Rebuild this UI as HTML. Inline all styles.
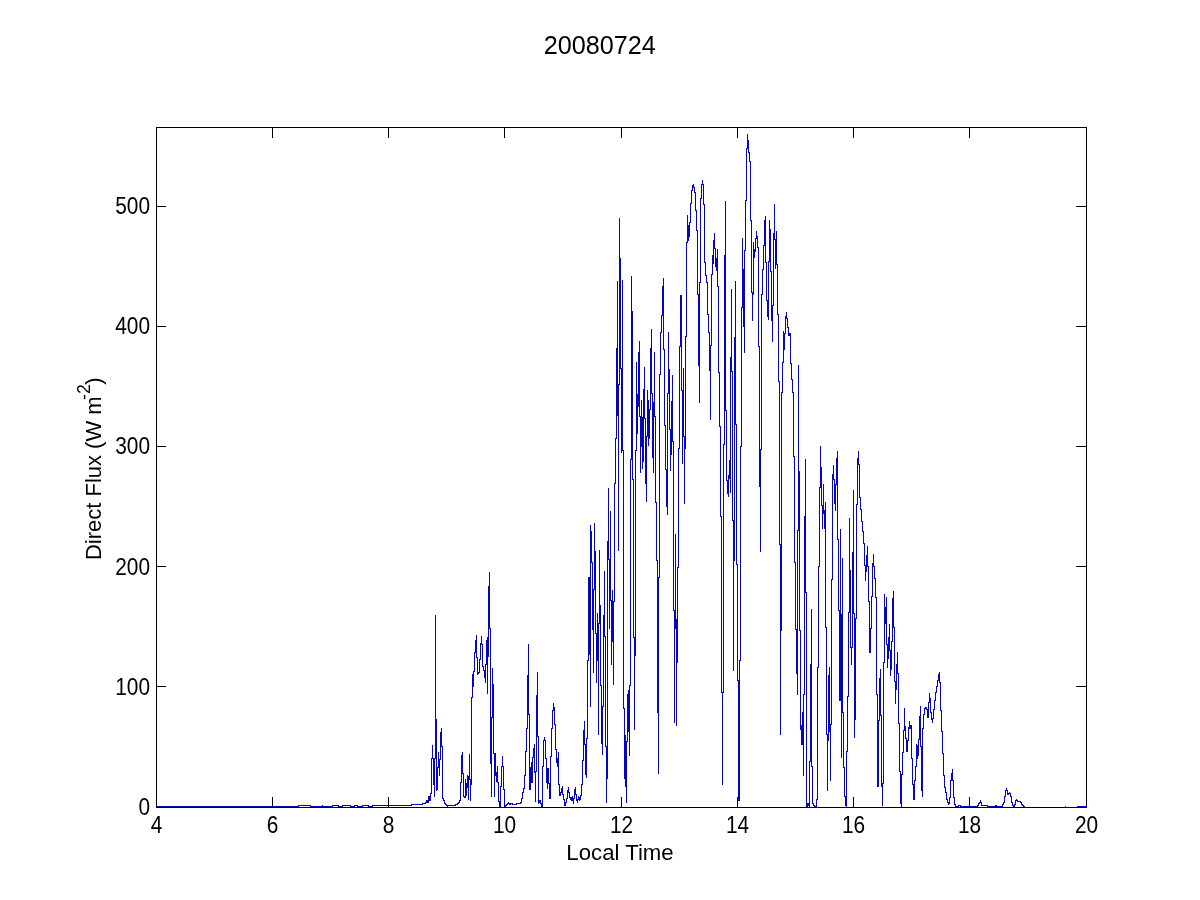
<!DOCTYPE html>
<html><head><meta charset="utf-8"><title>20080724</title>
<style>
html,body{margin:0;padding:0;background:#fff;}
body{width:1200px;height:900px;position:relative;overflow:hidden;}
svg{position:absolute;left:0;top:0;will-change:transform;}
text{font-family:"Liberation Sans",sans-serif;fill:#000;}
</style></head><body>
<svg width="1200" height="900" viewBox="0 0 1200 900">
<g stroke="#000" stroke-width="1" fill="none" shape-rendering="crispEdges">
<rect x="156.5" y="127.5" width="930" height="680"/>
<path d="M272.5 807V797M272.5 128V138"/>
<path d="M388.5 807V797M388.5 128V138"/>
<path d="M504.5 807V797M504.5 128V138"/>
<path d="M621.5 807V797M621.5 128V138"/>
<path d="M737.5 807V797M737.5 128V138"/>
<path d="M853.5 807V797M853.5 128V138"/>
<path d="M969.5 807V797M969.5 128V138"/>
<path d="M157 686.5H166M1086 686.5H1076"/>
<path d="M157 566.5H166M1086 566.5H1076"/>
<path d="M157 446.5H166M1086 446.5H1076"/>
<path d="M157 326.5H166M1086 326.5H1076"/>
<path d="M157 206.5H166M1086 206.5H1076"/>
</g>
<path d="M156 806h1v1h-1zM157 806h1v1h-1zM158 806h1v1h-1zM159 806h1v1h-1zM160 806h1v1h-1zM161 806h1v1h-1zM162 806h1v1h-1zM163 806h1v1h-1zM164 806h1v1h-1zM165 806h1v1h-1zM166 806h1v1h-1zM167 806h1v1h-1zM168 806h1v1h-1zM169 806h1v1h-1zM170 806h1v1h-1zM171 806h1v1h-1zM172 806h1v1h-1zM173 806h1v1h-1zM174 806h1v1h-1zM175 806h1v1h-1zM176 806h1v1h-1zM177 806h1v1h-1zM178 806h1v1h-1zM179 806h1v1h-1zM180 806h1v1h-1zM181 806h1v1h-1zM182 806h1v1h-1zM183 806h1v1h-1zM184 806h1v1h-1zM185 806h1v1h-1zM186 806h1v1h-1zM187 806h1v1h-1zM188 806h1v1h-1zM189 806h1v1h-1zM190 806h1v1h-1zM191 806h1v1h-1zM192 806h1v1h-1zM193 806h1v1h-1zM194 806h1v1h-1zM195 806h1v1h-1zM196 806h1v1h-1zM197 806h1v1h-1zM198 806h1v1h-1zM199 806h1v1h-1zM200 806h1v1h-1zM201 806h1v1h-1zM202 806h1v1h-1zM203 806h1v1h-1zM204 806h1v1h-1zM205 806h1v1h-1zM206 806h1v1h-1zM207 806h1v1h-1zM208 806h1v1h-1zM209 806h1v1h-1zM210 806h1v1h-1zM211 806h1v1h-1zM212 806h1v1h-1zM213 806h1v1h-1zM214 806h1v1h-1zM215 806h1v1h-1zM216 806h1v1h-1zM217 806h1v1h-1zM218 806h1v1h-1zM219 806h1v1h-1zM220 806h1v1h-1zM221 806h1v1h-1zM222 806h1v1h-1zM223 806h1v1h-1zM224 806h1v1h-1zM225 806h1v1h-1zM226 806h1v1h-1zM227 806h1v1h-1zM228 806h1v1h-1zM229 806h1v1h-1zM230 806h1v1h-1zM231 806h1v1h-1zM232 806h1v1h-1zM233 806h1v1h-1zM234 806h1v1h-1zM235 806h1v1h-1zM236 806h1v1h-1zM237 806h1v1h-1zM238 806h1v1h-1zM239 806h1v1h-1zM240 806h1v1h-1zM241 806h1v1h-1zM242 806h1v1h-1zM243 806h1v1h-1zM244 806h1v1h-1zM245 806h1v1h-1zM246 806h1v1h-1zM247 806h1v1h-1zM248 806h1v1h-1zM249 806h1v1h-1zM250 806h1v1h-1zM251 806h1v1h-1zM252 806h1v1h-1zM253 806h1v1h-1zM254 806h1v1h-1zM255 806h1v1h-1zM256 806h1v1h-1zM257 806h1v1h-1zM258 806h1v1h-1zM259 806h1v1h-1zM260 806h1v1h-1zM261 806h1v1h-1zM262 806h1v1h-1zM263 806h1v1h-1zM264 806h1v1h-1zM265 806h1v1h-1zM266 806h1v1h-1zM267 806h1v1h-1zM268 806h1v1h-1zM269 806h1v1h-1zM270 806h1v1h-1zM271 806h1v1h-1zM272 806h1v1h-1zM273 806h1v1h-1zM274 806h1v1h-1zM275 806h1v1h-1zM276 806h1v1h-1zM277 806h1v1h-1zM278 806h1v1h-1zM279 806h1v1h-1zM280 806h1v1h-1zM281 806h1v1h-1zM282 806h1v1h-1zM283 806h1v1h-1zM284 806h1v1h-1zM285 806h1v1h-1zM286 806h1v1h-1zM287 806h1v1h-1zM288 806h1v1h-1zM289 806h1v1h-1zM290 806h1v1h-1zM291 806h1v1h-1zM292 806h1v1h-1zM293 806h1v1h-1zM294 806h1v1h-1zM295 806h1v1h-1zM296 806h1v1h-1zM297 806h1v1h-1zM298 805h1v2h-1zM299 805h1v1h-1zM300 805h1v1h-1zM301 805h1v1h-1zM302 805h1v1h-1zM303 805h1v1h-1zM304 805h1v1h-1zM305 805h1v1h-1zM306 805h1v1h-1zM307 805h1v1h-1zM308 805h1v1h-1zM309 805h1v1h-1zM310 805h1v2h-1zM311 806h1v1h-1zM312 806h1v1h-1zM313 806h1v1h-1zM314 806h1v1h-1zM315 806h1v1h-1zM316 806h1v1h-1zM317 806h1v1h-1zM318 806h1v1h-1zM319 806h1v1h-1zM320 806h1v1h-1zM321 806h1v1h-1zM322 805h1v2h-1zM323 806h1v1h-1zM324 806h1v1h-1zM325 806h1v1h-1zM326 806h1v1h-1zM327 806h1v1h-1zM328 806h1v1h-1zM329 806h1v1h-1zM330 806h1v1h-1zM331 806h1v1h-1zM332 805h1v2h-1zM333 805h1v1h-1zM334 805h1v1h-1zM335 805h1v1h-1zM336 805h1v1h-1zM337 805h1v1h-1zM338 805h1v2h-1zM339 806h1v1h-1zM340 806h1v1h-1zM341 806h1v1h-1zM342 805h1v2h-1zM343 805h1v1h-1zM344 805h1v1h-1zM345 805h1v1h-1zM346 805h1v1h-1zM347 805h1v1h-1zM348 805h1v1h-1zM349 805h1v1h-1zM350 805h1v2h-1zM351 806h1v1h-1zM352 806h1v1h-1zM353 806h1v1h-1zM354 805h1v2h-1zM355 805h1v1h-1zM356 805h1v1h-1zM357 805h1v2h-1zM358 806h1v1h-1zM359 806h1v1h-1zM360 806h1v1h-1zM361 806h1v1h-1zM362 805h1v2h-1zM363 805h1v1h-1zM364 805h1v1h-1zM365 805h1v1h-1zM366 805h1v1h-1zM367 805h1v1h-1zM368 805h1v2h-1zM369 806h1v1h-1zM370 806h1v1h-1zM371 806h1v1h-1zM372 805h1v2h-1zM373 805h1v1h-1zM374 805h1v1h-1zM375 805h1v1h-1zM376 805h1v1h-1zM377 805h1v1h-1zM378 805h1v1h-1zM379 805h1v1h-1zM380 805h1v1h-1zM381 805h1v1h-1zM382 805h1v1h-1zM383 805h1v1h-1zM384 805h1v1h-1zM385 805h1v1h-1zM386 805h1v1h-1zM387 805h1v1h-1zM388 805h1v1h-1zM389 805h1v1h-1zM390 805h1v1h-1zM391 805h1v1h-1zM392 805h1v1h-1zM393 805h1v1h-1zM394 805h1v1h-1zM395 805h1v1h-1zM396 805h1v1h-1zM397 805h1v1h-1zM398 805h1v1h-1zM399 805h1v1h-1zM400 805h1v1h-1zM401 805h1v1h-1zM402 805h1v1h-1zM403 805h1v1h-1zM404 805h1v1h-1zM405 805h1v1h-1zM406 805h1v1h-1zM407 805h1v1h-1zM408 805h1v1h-1zM409 805h1v1h-1zM410 805h1v1h-1zM411 804h1v2h-1zM412 804h1v1h-1zM413 804h1v1h-1zM414 804h1v1h-1zM415 804h1v1h-1zM416 804h1v1h-1zM417 804h1v1h-1zM418 804h1v1h-1zM419 804h1v1h-1zM420 804h1v1h-1zM421 804h1v1h-1zM422 803h1v2h-1zM423 803h1v1h-1zM424 803h1v1h-1zM425 802h1v2h-1zM426 800h1v3h-1zM427 800h1v3h-1zM428 796h1v7h-1zM429 796h1v5h-1zM430 793h1v8h-1zM431 758h1v36h-1zM432 745h1v14h-1zM433 758h1v27h-1zM434 758h1v39h-1zM435 615h1v144h-1zM436 719h1v72h-1zM437 767h1v23h-1zM438 752h1v16h-1zM439 759h1v17h-1zM440 732h1v28h-1zM441 728h1v19h-1zM442 746h1v53h-1zM443 798h1v3h-1zM444 800h1v4h-1zM445 803h1v2h-1zM446 804h1v2h-1zM447 805h1v2h-1zM448 805h1v1h-1zM449 805h1v1h-1zM450 805h1v1h-1zM451 805h1v1h-1zM452 805h1v1h-1zM453 805h1v1h-1zM454 805h1v1h-1zM455 804h1v2h-1zM456 804h1v1h-1zM457 803h1v2h-1zM458 802h1v2h-1zM459 800h1v3h-1zM460 782h1v19h-1zM461 755h1v28h-1zM462 752h1v22h-1zM463 773h1v24h-1zM464 796h1v2h-1zM465 779h1v19h-1zM466 783h1v13h-1zM467 775h1v13h-1zM468 776h1v24h-1zM469 754h1v26h-1zM470 779h1v22h-1zM471 697h1v88h-1zM472 674h1v24h-1zM473 671h1v16h-1zM474 652h1v20h-1zM475 640h1v13h-1zM476 635h1v23h-1zM477 657h1v18h-1zM478 672h1v2h-1zM479 659h1v14h-1zM480 643h1v17h-1zM481 636h1v9h-1zM482 644h1v23h-1zM483 666h1v5h-1zM484 670h1v8h-1zM485 664h1v19h-1zM486 640h1v25h-1zM487 637h1v57h-1zM488 586h1v71h-1zM489 572h1v57h-1zM490 628h1v136h-1zM491 717h1v80h-1zM492 668h1v50h-1zM493 684h1v70h-1zM494 753h1v44h-1zM495 753h1v23h-1zM496 772h1v10h-1zM497 766h1v17h-1zM498 782h1v20h-1zM499 801h1v6h-1zM500 786h1v21h-1zM501 766h1v21h-1zM502 756h1v11h-1zM503 766h1v24h-1zM504 789h1v18h-1zM505 805h1v2h-1zM506 804h1v2h-1zM507 803h1v2h-1zM508 802h1v2h-1zM509 803h1v2h-1zM510 803h1v2h-1zM511 803h1v1h-1zM512 803h1v2h-1zM513 804h1v1h-1zM514 804h1v1h-1zM515 804h1v1h-1zM516 803h1v2h-1zM517 803h1v1h-1zM518 803h1v1h-1zM519 803h1v1h-1zM520 802h1v2h-1zM521 798h1v5h-1zM522 792h1v7h-1zM523 788h1v5h-1zM524 775h1v14h-1zM525 751h1v25h-1zM526 728h1v24h-1zM527 675h1v54h-1zM528 644h1v71h-1zM529 714h1v76h-1zM530 767h1v23h-1zM531 762h1v21h-1zM532 757h1v26h-1zM533 748h1v10h-1zM534 744h1v29h-1zM535 771h1v31h-1zM536 695h1v77h-1zM537 672h1v65h-1zM538 736h1v68h-1zM539 800h1v3h-1zM540 800h1v4h-1zM541 803h1v4h-1zM542 766h1v41h-1zM543 740h1v27h-1zM544 737h1v4h-1zM545 740h1v19h-1zM546 758h1v25h-1zM547 768h1v21h-1zM548 768h1v16h-1zM549 783h1v16h-1zM550 756h1v43h-1zM551 728h1v29h-1zM552 710h1v19h-1zM553 703h1v8h-1zM554 707h1v18h-1zM555 724h1v26h-1zM556 749h1v14h-1zM557 758h1v9h-1zM558 752h1v33h-1zM559 784h1v12h-1zM560 792h1v4h-1zM561 788h1v5h-1zM562 786h1v9h-1zM563 794h1v6h-1zM564 799h1v7h-1zM565 802h1v4h-1zM566 798h1v5h-1zM567 790h1v9h-1zM568 787h1v6h-1zM569 792h1v6h-1zM570 797h1v3h-1zM571 797h1v4h-1zM572 796h1v5h-1zM573 798h1v6h-1zM574 789h1v10h-1zM575 787h1v8h-1zM576 794h1v7h-1zM577 799h1v4h-1zM578 796h1v4h-1zM579 797h1v4h-1zM580 795h1v5h-1zM581 784h1v12h-1zM582 760h1v25h-1zM583 730h1v31h-1zM584 721h1v24h-1zM585 744h1v31h-1zM586 738h1v40h-1zM587 660h1v79h-1zM588 577h1v84h-1zM589 577h1v78h-1zM590 525h1v182h-1zM591 531h1v32h-1zM592 562h1v68h-1zM593 589h1v84h-1zM594 523h1v67h-1zM595 551h1v83h-1zM596 633h1v50h-1zM597 613h1v48h-1zM598 623h1v112h-1zM599 550h1v74h-1zM600 605h1v81h-1zM601 685h1v59h-1zM602 706h1v49h-1zM603 615h1v92h-1zM604 571h1v66h-1zM605 636h1v111h-1zM606 746h1v57h-1zM607 541h1v238h-1zM608 488h1v72h-1zM609 559h1v70h-1zM610 511h1v90h-1zM611 600h1v65h-1zM612 590h1v52h-1zM613 601h1v84h-1zM614 483h1v119h-1zM615 438h1v46h-1zM616 348h1v91h-1zM617 281h1v135h-1zM618 384h1v167h-1zM619 218h1v167h-1zM620 258h1v111h-1zM621 368h1v85h-1zM622 280h1v171h-1zM623 450h1v259h-1zM624 708h1v71h-1zM625 735h1v52h-1zM626 741h1v62h-1zM627 694h1v48h-1zM628 690h1v42h-1zM629 685h1v71h-1zM630 459h1v227h-1zM631 276h1v184h-1zM632 311h1v169h-1zM633 479h1v159h-1zM634 637h1v93h-1zM635 450h1v206h-1zM636 362h1v89h-1zM637 394h1v40h-1zM638 352h1v55h-1zM639 341h1v76h-1zM640 416h1v57h-1zM641 400h1v47h-1zM642 417h1v52h-1zM643 389h1v73h-1zM644 367h1v52h-1zM645 418h1v66h-1zM646 436h1v66h-1zM647 390h1v47h-1zM648 400h1v46h-1zM649 409h1v30h-1zM650 348h1v62h-1zM651 329h1v65h-1zM652 393h1v65h-1zM653 402h1v71h-1zM654 352h1v65h-1zM655 416h1v87h-1zM656 502h1v59h-1zM657 560h1v153h-1zM658 577h1v197h-1zM659 374h1v204h-1zM660 332h1v43h-1zM661 315h1v18h-1zM662 286h1v30h-1zM663 278h1v72h-1zM664 349h1v77h-1zM665 425h1v45h-1zM666 469h1v38h-1zM667 393h1v122h-1zM668 332h1v62h-1zM669 369h1v61h-1zM670 429h1v42h-1zM671 401h1v54h-1zM672 375h1v67h-1zM673 441h1v170h-1zM674 610h1v113h-1zM675 534h1v95h-1zM676 619h1v107h-1zM677 567h1v96h-1zM678 448h1v120h-1zM679 346h1v103h-1zM680 295h1v52h-1zM681 295h1v96h-1zM682 390h1v74h-1zM683 368h1v69h-1zM684 436h1v68h-1zM685 336h1v113h-1zM686 242h1v95h-1zM687 215h1v28h-1zM688 225h1v16h-1zM689 222h1v15h-1zM690 203h1v20h-1zM691 190h1v14h-1zM692 185h1v6h-1zM693 184h1v4h-1zM694 187h1v6h-1zM695 192h1v19h-1zM696 210h1v21h-1zM697 230h1v65h-1zM698 294h1v72h-1zM699 282h1v121h-1zM700 198h1v85h-1zM701 184h1v15h-1zM702 180h1v5h-1zM703 184h1v21h-1zM704 204h1v59h-1zM705 262h1v14h-1zM706 275h1v8h-1zM707 282h1v33h-1zM708 314h1v19h-1zM709 332h1v39h-1zM710 345h1v75h-1zM711 274h1v72h-1zM712 255h1v20h-1zM713 240h1v24h-1zM714 233h1v16h-1zM715 248h1v19h-1zM716 258h1v13h-1zM717 249h1v38h-1zM718 286h1v87h-1zM719 372h1v55h-1zM720 426h1v91h-1zM721 516h1v177h-1zM722 692h1v93h-1zM723 444h1v249h-1zM724 255h1v190h-1zM725 201h1v210h-1zM726 410h1v71h-1zM727 480h1v14h-1zM728 475h1v22h-1zM729 460h1v19h-1zM730 357h1v136h-1zM731 289h1v83h-1zM732 371h1v150h-1zM733 520h1v151h-1zM734 337h1v224h-1zM735 281h1v144h-1zM736 424h1v141h-1zM737 564h1v117h-1zM738 680h1v121h-1zM739 660h1v141h-1zM740 446h1v215h-1zM741 307h1v140h-1zM742 238h1v70h-1zM743 269h1v58h-1zM744 250h1v103h-1zM745 200h1v51h-1zM746 148h1v53h-1zM747 134h1v15h-1zM748 140h1v13h-1zM749 152h1v10h-1zM750 161h1v60h-1zM751 220h1v73h-1zM752 292h1v29h-1zM753 242h1v53h-1zM754 249h1v9h-1zM755 238h1v14h-1zM756 231h1v8h-1zM757 236h1v12h-1zM758 247h1v100h-1zM759 346h1v141h-1zM760 449h1v103h-1zM761 294h1v156h-1zM762 269h1v26h-1zM763 245h1v25h-1zM764 220h1v26h-1zM765 216h1v47h-1zM766 262h1v39h-1zM767 300h1v17h-1zM768 261h1v59h-1zM769 220h1v42h-1zM770 229h1v43h-1zM771 271h1v50h-1zM772 305h1v37h-1zM773 233h1v73h-1zM774 204h1v36h-1zM775 239h1v30h-1zM776 231h1v34h-1zM777 264h1v51h-1zM778 314h1v68h-1zM779 381h1v164h-1zM780 544h1v191h-1zM781 392h1v239h-1zM782 362h1v31h-1zM783 331h1v32h-1zM784 333h1v17h-1zM785 316h1v18h-1zM786 312h1v7h-1zM787 318h1v10h-1zM788 327h1v9h-1zM789 333h1v3h-1zM790 333h1v31h-1zM791 363h1v17h-1zM792 379h1v14h-1zM793 392h1v65h-1zM794 456h1v107h-1zM795 562h1v68h-1zM796 629h1v45h-1zM797 530h1v165h-1zM798 365h1v166h-1zM799 471h1v160h-1zM800 630h1v100h-1zM801 725h1v20h-1zM802 712h1v33h-1zM803 694h1v82h-1zM804 516h1v179h-1zM805 459h1v134h-1zM806 592h1v215h-1zM807 803h1v4h-1zM808 803h1v3h-1zM809 761h1v46h-1zM810 664h1v98h-1zM811 609h1v158h-1zM812 766h1v38h-1zM813 803h1v3h-1zM814 805h1v2h-1zM815 806h1v1h-1zM816 799h1v8h-1zM817 667h1v133h-1zM818 566h1v102h-1zM819 487h1v80h-1zM820 446h1v42h-1zM821 467h1v39h-1zM822 505h1v24h-1zM823 484h1v30h-1zM824 510h1v19h-1zM825 502h1v126h-1zM826 627h1v108h-1zM827 734h1v57h-1zM828 675h1v66h-1zM829 667h1v65h-1zM830 724h1v57h-1zM831 579h1v146h-1zM832 474h1v106h-1zM833 465h1v15h-1zM834 479h1v25h-1zM835 484h1v27h-1zM836 458h1v27h-1zM837 451h1v89h-1zM838 539h1v72h-1zM839 610h1v91h-1zM840 529h1v172h-1zM841 614h1v144h-1zM842 558h1v155h-1zM843 712h1v56h-1zM844 767h1v30h-1zM845 796h1v10h-1zM846 751h1v56h-1zM847 696h1v56h-1zM848 612h1v85h-1zM849 518h1v95h-1zM850 570h1v78h-1zM851 647h1v18h-1zM852 552h1v96h-1zM853 490h1v124h-1zM854 613h1v125h-1zM855 618h1v102h-1zM856 504h1v115h-1zM857 458h1v47h-1zM858 451h1v14h-1zM859 464h1v34h-1zM860 497h1v13h-1zM861 509h1v13h-1zM862 521h1v11h-1zM863 531h1v13h-1zM864 543h1v23h-1zM865 565h1v16h-1zM866 555h1v17h-1zM867 546h1v21h-1zM868 566h1v36h-1zM869 601h1v52h-1zM870 628h1v25h-1zM871 596h1v33h-1zM872 563h1v34h-1zM873 554h1v13h-1zM874 566h1v13h-1zM875 578h1v20h-1zM876 597h1v98h-1zM877 694h1v93h-1zM878 720h1v67h-1zM879 678h1v43h-1zM880 669h1v47h-1zM881 715h1v72h-1zM882 783h1v23h-1zM883 662h1v122h-1zM884 594h1v69h-1zM885 607h1v17h-1zM886 597h1v48h-1zM887 644h1v24h-1zM888 637h1v22h-1zM889 624h1v27h-1zM890 650h1v26h-1zM891 641h1v29h-1zM892 598h1v44h-1zM893 591h1v37h-1zM894 627h1v55h-1zM895 681h1v23h-1zM896 664h1v26h-1zM897 652h1v22h-1zM898 673h1v51h-1zM899 723h1v49h-1zM900 771h1v33h-1zM901 774h1v33h-1zM902 752h1v23h-1zM903 730h1v23h-1zM904 708h1v23h-1zM905 726h1v13h-1zM906 738h1v14h-1zM907 740h1v12h-1zM908 727h1v14h-1zM909 721h1v8h-1zM910 725h1v4h-1zM911 725h1v34h-1zM912 758h1v27h-1zM913 784h1v16h-1zM914 780h1v20h-1zM915 766h1v15h-1zM916 744h1v23h-1zM917 745h1v14h-1zM918 739h1v17h-1zM919 716h1v24h-1zM920 706h1v41h-1zM921 746h1v45h-1zM922 728h1v69h-1zM923 714h1v15h-1zM924 708h1v7h-1zM925 707h1v2h-1zM926 707h1v3h-1zM927 709h1v9h-1zM928 702h1v16h-1zM929 693h1v10h-1zM930 698h1v15h-1zM931 712h1v8h-1zM932 718h1v5h-1zM933 709h1v10h-1zM934 700h1v10h-1zM935 692h1v9h-1zM936 686h1v7h-1zM937 680h1v7h-1zM938 674h1v7h-1zM939 672h1v11h-1zM940 682h1v29h-1zM941 710h1v22h-1zM942 731h1v23h-1zM943 753h1v23h-1zM944 775h1v13h-1zM945 787h1v6h-1zM946 792h1v8h-1zM947 799h1v4h-1zM948 802h1v3h-1zM949 797h1v7h-1zM950 780h1v18h-1zM951 773h1v8h-1zM952 769h1v12h-1zM953 780h1v18h-1zM954 797h1v8h-1zM955 804h1v3h-1zM956 806h1v1h-1zM957 806h1v1h-1zM958 805h1v2h-1zM959 805h1v1h-1zM960 805h1v2h-1zM961 806h1v1h-1zM962 806h1v1h-1zM963 806h1v1h-1zM964 806h1v1h-1zM965 806h1v1h-1zM966 806h1v1h-1zM967 806h1v1h-1zM968 806h1v1h-1zM969 806h1v1h-1zM970 806h1v1h-1zM971 806h1v1h-1zM972 806h1v1h-1zM973 806h1v1h-1zM974 806h1v1h-1zM975 806h1v1h-1zM976 806h1v1h-1zM977 805h1v2h-1zM978 803h1v3h-1zM979 802h1v2h-1zM980 800h1v3h-1zM981 802h1v4h-1zM982 805h1v1h-1zM983 805h1v1h-1zM984 805h1v1h-1zM985 805h1v1h-1zM986 805h1v1h-1zM987 805h1v2h-1zM988 806h1v1h-1zM989 806h1v1h-1zM990 806h1v1h-1zM991 806h1v1h-1zM992 806h1v1h-1zM993 806h1v1h-1zM994 806h1v1h-1zM995 805h1v2h-1zM996 805h1v2h-1zM997 806h1v1h-1zM998 806h1v1h-1zM999 806h1v1h-1zM1000 806h1v1h-1zM1001 806h1v1h-1zM1002 804h1v3h-1zM1003 802h1v3h-1zM1004 796h1v7h-1zM1005 790h1v7h-1zM1006 788h1v3h-1zM1007 790h1v5h-1zM1008 793h1v2h-1zM1009 792h1v2h-1zM1010 793h1v4h-1zM1011 796h1v7h-1zM1012 802h1v4h-1zM1013 805h1v2h-1zM1014 804h1v3h-1zM1015 800h1v5h-1zM1016 799h1v2h-1zM1017 800h1v2h-1zM1018 801h1v1h-1zM1019 801h1v1h-1zM1020 801h1v2h-1zM1021 802h1v3h-1zM1022 804h1v2h-1zM1023 805h1v2h-1zM1024 806h1v2h-1zM1065 806h1v1h-1zM1077 806h1v1h-1zM1078 806h1v1h-1zM1079 806h1v1h-1zM1080 806h1v1h-1zM1081 806h1v2h-1zM1082 806h1v1h-1zM1083 806h1v1h-1zM1084 806h1v1h-1zM1085 806h1v1h-1zM1086 806h1v1h-1z" fill="#0505be" stroke="none" shape-rendering="crispEdges"/>
<text transform="translate(156.6,833) scale(0.908,1)" text-anchor="middle" font-size="23">4</text>
<text transform="translate(272.6,833) scale(0.908,1)" text-anchor="middle" font-size="23">6</text>
<text transform="translate(388.6,833) scale(0.908,1)" text-anchor="middle" font-size="23">8</text>
<text transform="translate(504.6,833) scale(0.908,1)" text-anchor="middle" font-size="23">10</text>
<text transform="translate(621.6,833) scale(0.908,1)" text-anchor="middle" font-size="23">12</text>
<text transform="translate(737.6,833) scale(0.908,1)" text-anchor="middle" font-size="23">14</text>
<text transform="translate(853.6,833) scale(0.908,1)" text-anchor="middle" font-size="23">16</text>
<text transform="translate(969.6,833) scale(0.908,1)" text-anchor="middle" font-size="23">18</text>
<text transform="translate(1086.6,833) scale(0.908,1)" text-anchor="middle" font-size="23">20</text>
<text transform="translate(150,815.02) scale(0.908,1)" text-anchor="end" font-size="23">0</text>
<text transform="translate(150,694.816) scale(0.908,1)" text-anchor="end" font-size="23">100</text>
<text transform="translate(150,574.612) scale(0.908,1)" text-anchor="end" font-size="23">200</text>
<text transform="translate(150,454.408) scale(0.908,1)" text-anchor="end" font-size="23">300</text>
<text transform="translate(150,334.204) scale(0.908,1)" text-anchor="end" font-size="23">400</text>
<text transform="translate(150,214) scale(0.908,1)" text-anchor="end" font-size="23">500</text>
<text x="599.7" y="54" text-anchor="middle" font-size="25.2">20080724</text>
<text transform="translate(620,859.6) scale(1,1)" text-anchor="middle" font-size="22.2">Local Time</text>
<text transform="translate(101,560) rotate(-90) scale(0.99,1)" text-anchor="start" font-size="22.2">Direct Flux (W m<tspan font-size="17.8" dy="-11" dx="-3.5">-2</tspan><tspan dy="11" dx="-0.5">)</tspan></text>
</svg>
</body></html>
